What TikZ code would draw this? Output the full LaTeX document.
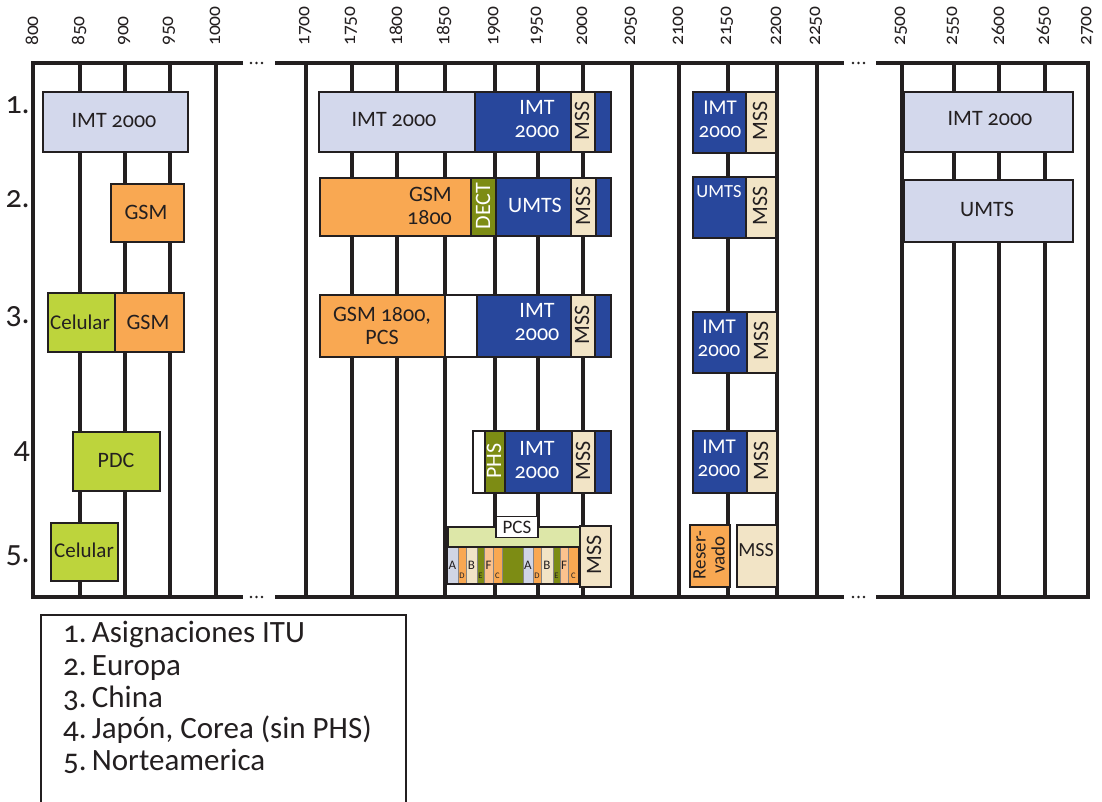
\documentclass[tikz,border=0pt]{standalone}
\usepackage{fontspec}
\setmainfont{Carlito}[Numbers=OldStyle]
\definecolor{ink}{HTML}{231F20}
\definecolor{lav}{HTML}{D3D8EC}
\definecolor{imtblue}{HTML}{28479C}
\definecolor{gsmorange}{HTML}{F9A852}
\definecolor{cellgreen}{HTML}{BDD43C}
\definecolor{olivegreen}{HTML}{7D8C14}
\definecolor{mssbeige}{HTML}{F2E4C6}
\definecolor{pcsgreen}{HTML}{DDE7A8}
\definecolor{peach}{HTML}{FBC28E}
\definecolor{greylav}{HTML}{D0D5E4}
% band cell: name, x1, y1, x2, y2, fill
\newcommand\blk[6]{\node[cell,fill=#6,minimum width={#4pt-#2pt},minimum height={#5pt-#3pt}] (#1) at (#2,#3) {};}
\newcommand\sub[6]{\node[subcell,fill=#6,minimum width={#4pt-#2pt},minimum height={#5pt-#3pt}] (#1) at (#2,#3) {};}
\begin{document}
\begin{tikzpicture}[x=1pt,y=-1pt,
  grid/.style={line width=3.5pt, draw=ink},
  frame/.style={line width=4pt, draw=ink, line join=miter},
  cell/.style={draw=ink, line width=1.6pt, inner sep=0pt, anchor=north west},
  subcell/.style={draw=ink!55, line width=0.5pt, inner sep=0pt, anchor=north west},
  lbl/.style={font=\fontsize{22}{23}\selectfont, text=ink, inner sep=0pt, align=center},
  wlbl/.style={lbl, text=white},
  vlbl/.style={lbl, rotate=90},
  wvlbl/.style={wlbl, rotate=90},
  tick/.style={font=\fontsize{19.5}{19.5}\selectfont, text=ink, inner sep=0pt, rotate=90, anchor=west},
  rowno/.style={font=\fontsize{32}{32}\selectfont, text=ink, inner sep=0pt, anchor=base east},
  bigletter/.style={font=\fontsize{13}{13}\selectfont, text=ink, inner sep=0pt},
  smallletter/.style={font=\fontsize{8.5}{8.5}\selectfont, text=ink, inner sep=0pt},
  legend/.style={font=\fontsize{31}{31}\selectfont, text=ink, inner sep=0pt, anchor=base west},
  dotmark/.style={fill=ink, draw=none}
]
\useasboundingbox (0,0) rectangle (1102,801);
\fill[white] (0,0) rectangle (1102,801);

% frequency scale
\foreach \v/\x in {800/33,850/80,900/125,950/170,1000/216,
                   1700/306,1750/352,1800/397,1850/445,1900/495,1950/538,2000/583,2050/632,
                   2100/679,2150/728,2200/777,2250/817,
                   2500/902,2550/954,2600/999,2650/1045,2700/1088}
  \node[tick] (tk\v) at (\x-1,46) {\v};

% grid lines
\foreach \x in {80,125,170,216,306,352,397,445,495,538,583,632,679,728,777,817,902,954,999,1045}
  \draw[grid] (\x,63) -- (\x,597);

% outer frame with gaps
\draw[frame] (243,63) -- (33,63) -- (33,597) -- (243,597);
\draw[frame] (275,63) -- (844,63);
\draw[frame] (275,597) -- (844,597);
\draw[frame] (876,63) -- (1088,63) -- (1088,597) -- (876,597);
\foreach \x in {251,256.5,262,853,858.5,864}{
  \fill[dotmark] (\x,63) circle (1.3);
  \fill[dotmark] (\x,597) circle (1.3);
}

% row numbers
\node[rowno] (r1) at (30,113) {1.};
\node[rowno] (r2) at (30,207) {2.};
\node[rowno] (r3) at (30,323) {3.};
\node[rowno] (r4) at (30,458) {4};
\node[rowno] (r5) at (30,562) {5.};

% ---- 800-1000 MHz
\blk{a1}{42}{91}{187}{151}{lav}
\node[lbl] (ta1) at (114,121) {IMT 2000};
\blk{a2}{110}{183}{183}{241}{gsmorange}
\node[lbl] (ta2) at (146,212) {GSM};
\blk{a3c}{47}{292}{114}{351}{cellgreen}
\node[lbl, font=\fontsize{21}{21}\selectfont] (ta3c) at (80,322) {Celular};
\blk{a3g}{114}{292}{183}{351}{gsmorange}
\node[lbl] (ta3g) at (148,322) {GSM};
\blk{a4}{72}{431}{159}{490}{cellgreen}
\node[lbl] (ta4) at (116,460) {PDC};
\blk{a5}{50}{522}{117}{580}{cellgreen}
\node[lbl, font=\fontsize{21}{21}\selectfont] (ta5) at (84,550) {Celular};

% ---- 1700-2050 MHz
\blk{b1l}{318}{91}{474}{151}{lav}
\node[lbl] (tb1l) at (394,120) {IMT 2000};
\blk{b1i}{474}{91}{570}{151}{imtblue}
\node[wlbl] (tb1i) at (537,119) {IMT\\2000};
\blk{b1m}{570}{91}{594}{151}{mssbeige}
\node[vlbl] (tb1m) at (582,121) {MSS};
\blk{b1e}{594}{91}{610}{151}{imtblue}

\blk{b2g}{319}{177}{470}{235}{gsmorange}
\node[lbl, align=right, anchor=east] (tb2g) at (452,206) {GSM\\1800};
\blk{b2d}{470}{177}{495}{235}{olivegreen}
\node[wvlbl] (tb2d) at (483,206) {DECT};
\blk{b2u}{495}{177}{570}{235}{imtblue}
\node[wlbl] (tb2u) at (535,205) {UMTS};
\blk{b2m}{570}{177}{595}{235}{mssbeige}
\node[vlbl] (tb2m) at (583,206) {MSS};
\blk{b2e}{595}{177}{610}{235}{imtblue}

\blk{b3g}{319}{294}{444}{356}{gsmorange}
\node[lbl] (tb3g) at (382,326) {GSM 1800,\\PCS};
\blk{b3w}{444}{294}{476}{356}{white}
\blk{b3i}{476}{294}{570}{356}{imtblue}
\node[wlbl] (tb3i) at (537,322) {IMT\\2000};
\blk{b3m}{570}{294}{594}{356}{mssbeige}
\node[vlbl] (tb3m) at (582,325) {MSS};
\blk{b3e}{594}{294}{610}{356}{imtblue}

\blk{b4w}{472}{430}{484}{492}{white}
\blk{b4p}{484}{430}{504}{492}{olivegreen}
\node[wvlbl] (tb4p) at (494,461) {PHS};
\blk{b4i}{504}{430}{571}{492}{imtblue}
\node[wlbl] (tb4i) at (537,460) {IMT\\2000};
\blk{b4m}{571}{430}{594}{492}{mssbeige}
\node[vlbl] (tb4m) at (583,461) {MSS};
\blk{b4e}{594}{430}{610}{492}{imtblue}

% North American PCS blocks
\blk{b5p}{447}{526}{579}{547}{pcsgreen}
\sub{sA1}{447}{547}{458}{584}{greylav}
\sub{sD1}{458}{547}{466}{584}{gsmorange}
\sub{sB1}{466}{547}{477}{584}{mssbeige}
\sub{sE1}{477}{547}{484}{584}{olivegreen}
\sub{sF1}{484}{547}{493}{584}{peach}
\sub{sC1}{493}{547}{502}{584}{gsmorange}
\sub{sG}{502}{547}{523}{584}{olivegreen}
\sub{sA2}{523}{547}{533}{584}{greylav}
\sub{sD2}{533}{547}{541}{584}{gsmorange}
\sub{sB2}{541}{547}{553}{584}{mssbeige}
\sub{sE2}{553}{547}{560}{584}{olivegreen}
\sub{sF2}{560}{547}{568}{584}{peach}
\sub{sC2}{568}{547}{579}{584}{gsmorange}
\draw[ink, line width=1.2pt] (447,547) rectangle (579,584);
\node[bigletter] (lA1) at (452.5,565) {A};
\node[smallletter] (lD1) at (462,576) {D};
\node[bigletter] (lB1) at (471.5,565) {B};
\node[smallletter] (lE1) at (480.5,576) {E};
\node[bigletter] (lF1) at (488.5,565) {F};
\node[smallletter] (lC1) at (497.5,576) {C};
\node[bigletter] (lA2) at (528,565) {A};
\node[smallletter] (lD2) at (537,576) {D};
\node[bigletter] (lB2) at (547,565) {B};
\node[smallletter] (lE2) at (556.5,576) {E};
\node[bigletter] (lF2) at (564,565) {F};
\node[smallletter] (lC2) at (573.5,576) {C};
\node[draw=ink, line width=1.2pt, fill=white, font=\fontsize{19}{19}\selectfont, text=ink,
      minimum width=42pt, minimum height=21pt, inner sep=0pt] (pcs) at (517,527) {PCS};
\blk{b5m}{579}{525}{610}{586}{mssbeige}
\node[vlbl] (tb5m) at (594,555) {MSS};

% ---- 2100-2250 MHz
\blk{c1i}{692}{91}{745}{152}{imtblue}
\node[wlbl, font=\fontsize{21}{23}\selectfont] (tc1i) at (720,119) {IMT\\2000};
\blk{c1m}{745}{91}{775}{152}{mssbeige}
\node[vlbl] (tc1m) at (760,121) {MSS};
\blk{c2u}{692}{176}{745}{237}{imtblue}
\node[wlbl, font=\fontsize{18.5}{20}\selectfont] (tc2u) at (719,192) {UMTS};
\blk{c2m}{745}{176}{775}{237}{mssbeige}
\node[vlbl] (tc2m) at (760,206) {MSS};
\blk{c3i}{692}{311}{746}{372}{imtblue}
\node[wlbl, font=\fontsize{21}{23}\selectfont] (tc3i) at (719,338) {IMT\\2000};
\blk{c3m}{746}{311}{776}{372}{mssbeige}
\node[vlbl] (tc3m) at (761,341) {MSS};
\blk{c4i}{692}{430}{746}{492}{imtblue}
\node[wlbl, font=\fontsize{21}{23}\selectfont] (tc4i) at (719,458) {IMT\\2000};
\blk{c4m}{746}{430}{776}{492}{mssbeige}
\node[vlbl] (tc4m) at (761,461) {MSS};
\blk{c5r}{689}{524}{729}{586}{gsmorange}
\node[vlbl, font=\fontsize{19}{19}\selectfont] (tc5r) at (709,555) {Reser-\\vado};
\blk{c5m}{736}{524}{776}{586}{mssbeige}
\node[lbl, font=\fontsize{20}{20}\selectfont] (tc5m) at (756,550) {MSS};

% ---- 2500-2700 MHz
\blk{d1}{903}{91}{1072}{151}{lav}
\node[lbl] (td1) at (990,119) {IMT 2000};
\blk{d2}{903}{179}{1072}{241}{lav}
\node[lbl] (td2) at (987,209) {UMTS};

% legend
\draw[ink, line width=1.2pt] (41,803) -- (41,615) -- (406,615) -- (406,803);
\node[legend] (k1) at (63,642) {1.\,Asignaciones ITU};
\node[legend] (k2) at (63,675) {2.\,Europa};
\node[legend] (k3) at (63,707) {3.\,China};
\node[legend] (k4) at (63,738) {4.\,Japón, Corea (sin PHS)};
\node[legend] (k5) at (63,770) {5.\,Norteamerica};
\end{tikzpicture}
\end{document}
